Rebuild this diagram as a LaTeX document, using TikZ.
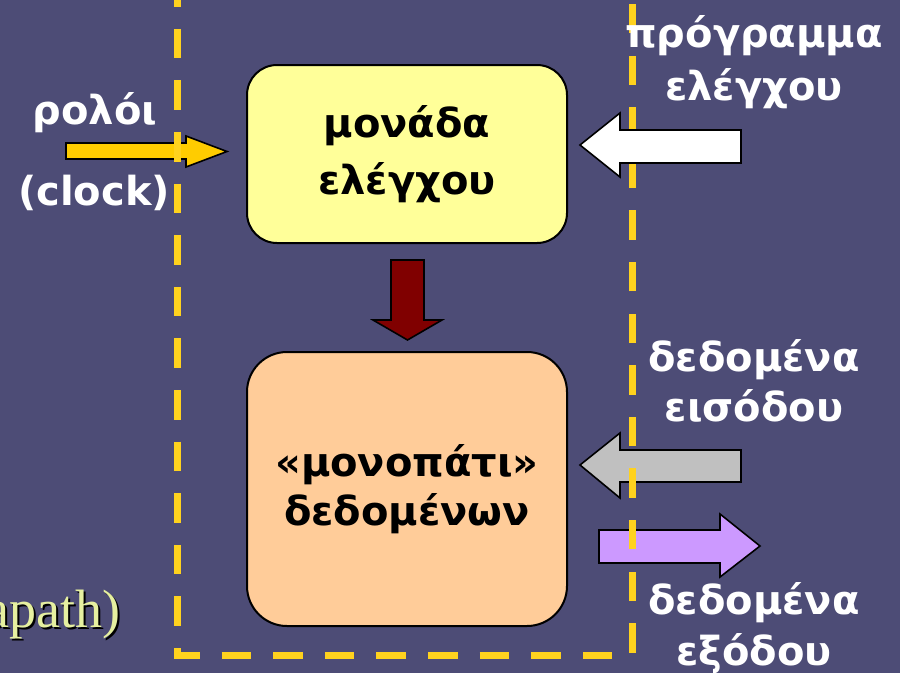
\documentclass[tikz,border=0pt]{standalone}
\usepackage{fontspec}
\setmainfont{DejaVu Sans}
\newfontfamily\timesfont{Liberation Serif}
\usetikzlibrary{calc}

\begin{document}
\begin{tikzpicture}[x=1pt,y=-1pt,
  unitbox/.style={draw,line width=2.pt,minimum width=320pt,inner sep=0pt,align=center,text=black},
  blockarrow/.style={draw=black,line width=1.6pt,line join=miter},
  lbl/.style={text=white,align=center}]
\definecolor{uduczb}{rgb}{0.30196,0.29804,0.46275}
\definecolor{ffffzz}{rgb}{1.,1.,0.6}
\definecolor{ffcczz}{rgb}{1.,0.8,0.6}
\definecolor{zzqqqq}{rgb}{0.50196,0.,0.}
\definecolor{cccccc}{rgb}{0.75294,0.75294,0.75294}
\definecolor{cczzff}{rgb}{0.8,0.6,1.}
\definecolor{ffccqq}{rgb}{1.,0.8,0.}
\definecolor{ffdded}{rgb}{1.,0.82353,0.11765}
\definecolor{eeffzz}{rgb}{0.90196,0.94118,0.62745}
\useasboundingbox (0,0) rectangle (900,673);
\fill [color=uduczb] (0,0) rectangle (900,673);
\node [unitbox,fill=ffffzz,rounded corners=30pt,minimum height=178pt,font=\fontsize{40}{57}\selectfont\bfseries] (ctrl) at (407,154) {μονάδα\\ελέγχου};
\node [unitbox,fill=ffcczz,rounded corners=40pt,minimum height=274pt,font=\fontsize{40}{49}\selectfont\bfseries] (datapath) at (407,489) {«μονοπάτι»\\δεδομένων};
\draw [blockarrow,fill=ffccqq] (66,143) -- (186,143) -- (186,136) -- (227,151.5) -- (186,167) -- (186,159) -- (66,159) -- cycle;
\draw [blockarrow,fill=cccccc] (741,450) -- (620,450) -- (620,433) -- (580,465) -- (620,498) -- (620,482) -- (741,482) -- cycle;
\draw [blockarrow,fill=cczzff] (599,530) -- (720,530) -- (720,514) -- (760,546) -- (720,577) -- (720,563) -- (599,563) -- cycle;
\draw [blockarrow,fill=zzqqqq] (391,260) -- (424,260) -- (424,320) -- (442,320) -- (407.5,340) -- (373,320) -- (391,320) -- cycle;
\draw [line width=7.pt,color=ffdded,dash pattern=on 29.5pt off 22.1pt,dash phase=18.8pt] (177,-4) -- (177,655) -- (632,655) -- (632,-4);
\draw [blockarrow,fill=white] (741,130) -- (620,130) -- (620,113) -- (580,145) -- (620,177) -- (620,163) -- (741,163) -- cycle;
\begin{scope}[font=\fontsize{40}{53}\selectfont\bfseries]
\node [lbl,anchor=base] (clk) at (95,124) {ρολόι};
\node [lbl,anchor=base] (clken) at (94,205) {(clock)};
\node [lbl] (prog) at (754,62) {πρόγραμμα\\ελέγχου};
\node [lbl,font=\fontsize{40}{50}\selectfont\bfseries] (din) at (754,380.5) {δεδομένα\\εισόδου};
\node [lbl,font=\fontsize{40}{51}\selectfont\bfseries] (dout) at (754,628) {δεδομένα\\εξόδου};
\end{scope}
\node [anchor=base east,inner sep=0pt,text=eeffzz,font=\fontsize{54}{60}\timesfont] (dp) at (121,627) {\rlap{\hspace{2pt}\raisebox{-2pt}{\textcolor{black}{apath)}}}apath)};
\end{tikzpicture}
\end{document}
